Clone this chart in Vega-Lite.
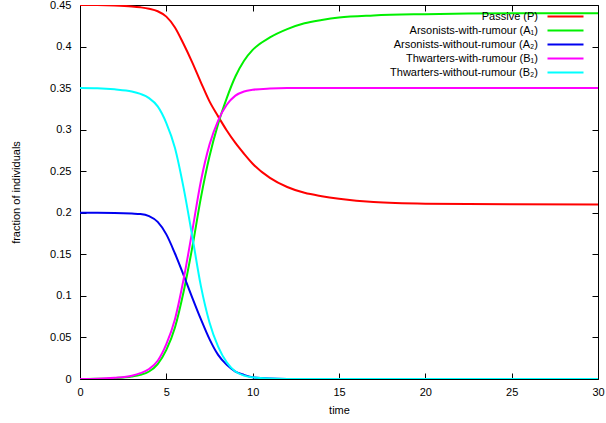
{
  "$schema": "https://vega.github.io/schema/vega-lite/v6.json",
  "width": 518,
  "height": 374,
  "autosize": {"type": "none"},
  "padding": {"left": 80, "top": 5, "right": 8, "bottom": 44},
  "background": "white",
  "config": {
    "view": {"stroke": "black", "strokeWidth": 1},
    "font": "Liberation Sans",
    "axis": {"grid": false, "domain": false, "tickColor": "black", "tickSize": 6, "tickWidth": 1, "zindex": 1,
             "labelFont": "Liberation Sans", "labelFontSize": 11, "labelColor": "black",
             "titleFont": "Liberation Sans", "titleFontSize": 11, "titleFontWeight": "normal", "titleColor": "black"}
  },
  "data": {"values": [
    {"t":0,"Passive (P)":0.45,"Arsonists-with-rumour (A₁)":0,"Arsonists-without-rumour (A₂)":0.2,"Thwarters-with-rumour (B₁)":0,"Thwarters-without-rumour (B₂)":0.35},
    {"t":1,"Passive (P)":0.45,"Arsonists-with-rumour (A₁)":0.0002,"Arsonists-without-rumour (A₂)":0.2,"Thwarters-with-rumour (B₁)":0.0003,"Thwarters-without-rumour (B₂)":0.3497},
    {"t":2,"Passive (P)":0.4495,"Arsonists-with-rumour (A₁)":0.001,"Arsonists-without-rumour (A₂)":0.1997,"Thwarters-with-rumour (B₁)":0.0015,"Thwarters-without-rumour (B₂)":0.3485},
    {"t":3,"Passive (P)":0.4483,"Arsonists-with-rumour (A₁)":0.003,"Arsonists-without-rumour (A₂)":0.199,"Thwarters-with-rumour (B₁)":0.004,"Thwarters-without-rumour (B₂)":0.346},
    {"t":3.5,"Passive (P)":0.4472,"Arsonists-with-rumour (A₁)":0.005,"Arsonists-without-rumour (A₂)":0.1985,"Thwarters-with-rumour (B₁)":0.007,"Thwarters-without-rumour (B₂)":0.343},
    {"t":4,"Passive (P)":0.4455,"Arsonists-with-rumour (A₁)":0.009,"Arsonists-without-rumour (A₂)":0.196,"Thwarters-with-rumour (B₁)":0.012,"Thwarters-without-rumour (B₂)":0.338},
    {"t":4.5,"Passive (P)":0.4425,"Arsonists-with-rumour (A₁)":0.018,"Arsonists-without-rumour (A₂)":0.189,"Thwarters-with-rumour (B₁)":0.022,"Thwarters-without-rumour (B₂)":0.328},
    {"t":5,"Passive (P)":0.436,"Arsonists-with-rumour (A₁)":0.035,"Arsonists-without-rumour (A₂)":0.174,"Thwarters-with-rumour (B₁)":0.042,"Thwarters-without-rumour (B₂)":0.308},
    {"t":5.5,"Passive (P)":0.423,"Arsonists-with-rumour (A₁)":0.062,"Arsonists-without-rumour (A₂)":0.151,"Thwarters-with-rumour (B₁)":0.072,"Thwarters-without-rumour (B₂)":0.278},
    {"t":6,"Passive (P)":0.403,"Arsonists-with-rumour (A₁)":0.105,"Arsonists-without-rumour (A₂)":0.125,"Thwarters-with-rumour (B₁)":0.12,"Thwarters-without-rumour (B₂)":0.23},
    {"t":6.5,"Passive (P)":0.381,"Arsonists-with-rumour (A₁)":0.158,"Arsonists-without-rumour (A₂)":0.098,"Thwarters-with-rumour (B₁)":0.178,"Thwarters-without-rumour (B₂)":0.172},
    {"t":7,"Passive (P)":0.357,"Arsonists-with-rumour (A₁)":0.218,"Arsonists-without-rumour (A₂)":0.072,"Thwarters-with-rumour (B₁)":0.238,"Thwarters-without-rumour (B₂)":0.112},
    {"t":7.5,"Passive (P)":0.334,"Arsonists-with-rumour (A₁)":0.268,"Arsonists-without-rumour (A₂)":0.048,"Thwarters-with-rumour (B₁)":0.282,"Thwarters-without-rumour (B₂)":0.068},
    {"t":8,"Passive (P)":0.316,"Arsonists-with-rumour (A₁)":0.307,"Arsonists-without-rumour (A₂)":0.029,"Thwarters-with-rumour (B₁)":0.311,"Thwarters-without-rumour (B₂)":0.039},
    {"t":8.5,"Passive (P)":0.299,"Arsonists-with-rumour (A₁)":0.338,"Arsonists-without-rumour (A₂)":0.017,"Thwarters-with-rumour (B₁)":0.33,"Thwarters-without-rumour (B₂)":0.02},
    {"t":9,"Passive (P)":0.284,"Arsonists-with-rumour (A₁)":0.364,"Arsonists-without-rumour (A₂)":0.009,"Thwarters-with-rumour (B₁)":0.341,"Thwarters-without-rumour (B₂)":0.009},
    {"t":9.5,"Passive (P)":0.271,"Arsonists-with-rumour (A₁)":0.383,"Arsonists-without-rumour (A₂)":0.005,"Thwarters-with-rumour (B₁)":0.346,"Thwarters-without-rumour (B₂)":0.004},
    {"t":10,"Passive (P)":0.259,"Arsonists-with-rumour (A₁)":0.396,"Arsonists-without-rumour (A₂)":0.002,"Thwarters-with-rumour (B₁)":0.348,"Thwarters-without-rumour (B₂)":0.002},
    {"t":11,"Passive (P)":0.242,"Arsonists-with-rumour (A₁)":0.411,"Arsonists-without-rumour (A₂)":0.0005,"Thwarters-with-rumour (B₁)":0.3495,"Thwarters-without-rumour (B₂)":0.0005},
    {"t":12,"Passive (P)":0.231,"Arsonists-with-rumour (A₁)":0.421,"Arsonists-without-rumour (A₂)":0.0001,"Thwarters-with-rumour (B₁)":0.35,"Thwarters-without-rumour (B₂)":0.0001},
    {"t":13,"Passive (P)":0.224,"Arsonists-with-rumour (A₁)":0.428,"Arsonists-without-rumour (A₂)":0,"Thwarters-with-rumour (B₁)":0.35,"Thwarters-without-rumour (B₂)":0},
    {"t":14,"Passive (P)":0.22,"Arsonists-with-rumour (A₁)":0.432,"Arsonists-without-rumour (A₂)":0,"Thwarters-with-rumour (B₁)":0.35,"Thwarters-without-rumour (B₂)":0},
    {"t":15,"Passive (P)":0.217,"Arsonists-with-rumour (A₁)":0.435,"Arsonists-without-rumour (A₂)":0,"Thwarters-with-rumour (B₁)":0.35,"Thwarters-without-rumour (B₂)":0},
    {"t":17,"Passive (P)":0.213,"Arsonists-with-rumour (A₁)":0.4375,"Arsonists-without-rumour (A₂)":0,"Thwarters-with-rumour (B₁)":0.35,"Thwarters-without-rumour (B₂)":0},
    {"t":20,"Passive (P)":0.211,"Arsonists-with-rumour (A₁)":0.439,"Arsonists-without-rumour (A₂)":0,"Thwarters-with-rumour (B₁)":0.35,"Thwarters-without-rumour (B₂)":0},
    {"t":25,"Passive (P)":0.2102,"Arsonists-with-rumour (A₁)":0.44,"Arsonists-without-rumour (A₂)":0,"Thwarters-with-rumour (B₁)":0.35,"Thwarters-without-rumour (B₂)":0},
    {"t":30,"Passive (P)":0.21,"Arsonists-with-rumour (A₁)":0.44,"Arsonists-without-rumour (A₂)":0,"Thwarters-with-rumour (B₁)":0.35,"Thwarters-without-rumour (B₂)":0}
  ]},
  "transform": [
    {"fold": ["Passive (P)", "Arsonists-with-rumour (A₁)", "Arsonists-without-rumour (A₂)", "Thwarters-with-rumour (B₁)", "Thwarters-without-rumour (B₂)"], "as": ["series", "value"]}
  ],
  "layer": [
    {
      "mark": {"type": "line", "strokeWidth": 2, "interpolate": "monotone", "clip": true},
      "encoding": {
        "x": {"field": "t", "type": "quantitative", "scale": {"domain": [0, 30], "nice": false},
              "axis": {"orient": "bottom", "title": "time", "ticks": false, "values": [0,5,10,15,20,25,30], "labelPadding": 7, "titlePadding": 7, "labelFlush": false}},
        "y": {"field": "value", "type": "quantitative", "scale": {"domain": [0, 0.45], "nice": false, "zero": false},
              "axis": {"orient": "left", "title": "fraction of individuals", "ticks": false, "format": ".2~f", "values": [0,0.05,0.1,0.15,0.2,0.25,0.3,0.35,0.4,0.45], "labelPadding": 9, "titlePadding": 28, "labelFlush": false}},
        "color": {"field": "series", "type": "nominal", "sort": null,
          "scale": {"domain": ["Passive (P)", "Arsonists-with-rumour (A₁)", "Arsonists-without-rumour (A₂)", "Thwarters-with-rumour (B₁)", "Thwarters-without-rumour (B₂)"],
                    "range": ["#ff0000", "#00f000", "#0000f0", "#ff00ff", "#00ffff"]},
          "legend": {"orient": "none", "legendX": 480, "legendY": 6, "title": null, "labelAlign": "right", "labelOffset": -33,
                     "symbolType": "M-4,0H4", "symbolSize": 81, "symbolStrokeWidth": 2, "labelFontSize": 11, "labelFont": "Liberation Sans",
                     "labelColor": "black", "rowPadding": 2, "labelLimit": 400}}
      }
    },
    {
      "mark": {"type": "line", "opacity": 0},
      "encoding": {
        "x": {"field": "t", "type": "quantitative", "axis": {"orient": "top", "offset": -374, "title": null, "labels": false, "values": [0,5,10,15,20,25,30]}},
        "y": {"field": "value", "type": "quantitative", "axis": {"orient": "right", "offset": -518, "title": null, "labels": false, "values": [0,0.05,0.1,0.15,0.2,0.25,0.3,0.35,0.4,0.45]}}
      }
    },
    {
      "mark": {"type": "line", "opacity": 0},
      "encoding": {
        "x": {"field": "t", "type": "quantitative", "axis": {"orient": "bottom", "offset": -374, "title": null, "labels": false, "values": [0,5,10,15,20,25,30]}},
        "y": {"field": "value", "type": "quantitative", "axis": {"orient": "left", "offset": -518, "title": null, "labels": false, "values": [0,0.05,0.1,0.15,0.2,0.25,0.3,0.35,0.4,0.45]}}
      }
    }
  ],
  "resolve": {"axis": {"x": "independent", "y": "independent"}}
}
